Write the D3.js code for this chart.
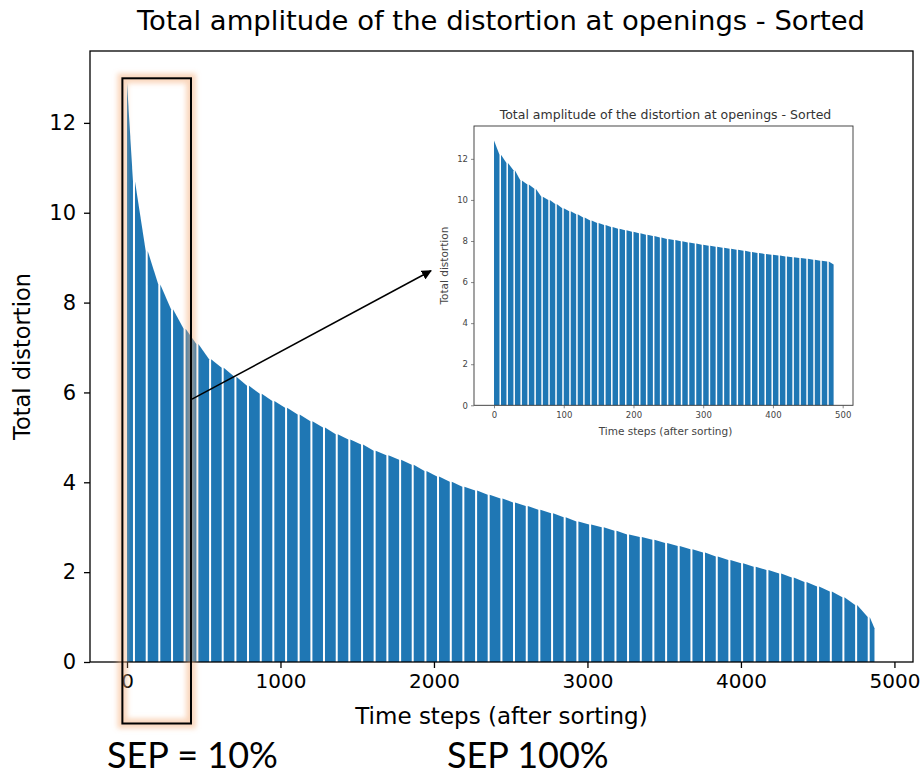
<!DOCTYPE html>
<html>
<head>
<meta charset="utf-8">
<script src="https://cdn.jsdelivr.net/npm/d3@7/dist/d3.min.js"></script>
<style>
  body { margin: 0; background: #ffffff; }
  svg { display: block; }
</style>
</head>
<body>
<svg id="chart" width="920" height="776"></svg>
<script>
// ---- text ----
const chartTitle = "Total amplitude of the distortion at openings - Sorted";
const xLabel = "Time steps (after sorting)";
const yLabel = "Total distortion";
const sepLabels = ["SEP = 10%", "SEP 100%"];

// ---- ticks ----
const mainXTicks = [0, 1000, 2000, 3000, 4000, 5000];
const mainYTicks = [0, 2, 4, 6, 8, 10, 12];
const headXTicks = [0, 100, 200, 300, 400, 500];
const headYTicks = [0, 2, 4, 6, 8, 10, 12];

// ---- full sorted series: start step of each bar group, and its distortion ----
const fullSteps = [0, 52, 135, 217, 300, 382, 465, 548, 630, 713, 795, 878, 960, 1043, 1125,
  1208, 1290, 1373, 1455, 1538, 1620, 1703, 1786, 1868, 1951, 2033, 2116, 2198, 2281, 2363,
  2446, 2528, 2611, 2693, 2776, 2858, 2941, 3024, 3106, 3189, 3271, 3354, 3436, 3519, 3601,
  3684, 3766, 3849, 3931, 4014, 4096, 4179, 4262, 4344, 4427, 4509, 4592, 4674, 4757, 4839, 4870];
const fullValues = [12.9, 10.7, 9.15, 8.4, 7.85, 7.42, 7.08, 6.74, 6.55, 6.35, 6.15, 5.97, 5.81, 5.66, 5.51,
  5.36, 5.22, 5.07, 4.95, 4.84, 4.70, 4.60, 4.50, 4.39, 4.25, 4.13, 4.01, 3.90, 3.82, 3.72,
  3.64, 3.55, 3.47, 3.39, 3.31, 3.22, 3.13, 3.06, 3.00, 2.92, 2.84, 2.78, 2.72, 2.65, 2.58,
  2.51, 2.44, 2.35, 2.27, 2.20, 2.12, 2.05, 1.97, 1.88, 1.78, 1.68, 1.57, 1.44, 1.27, 1.00, 0.75];

// ---- first 10% of the sorted series (zoomed view) ----
const headSteps = [0, 10, 20, 30, 40, 50, 60, 70, 80, 90, 100, 110, 120, 130, 140, 150, 160, 170,
  180, 190, 200, 210, 220, 230, 240, 250, 260, 270, 280, 290, 300, 310, 320, 330, 340, 350, 360,
  370, 380, 390, 400, 410, 420, 430, 440, 450, 460, 470, 480, 487];
const headValues = [12.9, 12.2, 11.8, 11.45, 10.95, 10.75, 10.55, 10.15, 10.0, 9.8, 9.6, 9.45, 9.3,
  9.15, 9.0, 8.88, 8.78, 8.68, 8.6, 8.52, 8.45, 8.38, 8.3, 8.24, 8.17, 8.1, 8.05, 7.99, 7.93, 7.88,
  7.82, 7.77, 7.72, 7.67, 7.62, 7.57, 7.52, 7.47, 7.42, 7.37, 7.33, 7.29, 7.25, 7.21, 7.17, 7.13,
  7.09, 7.04, 7.0, 6.85];

const barColor = "#1f77b4";
const mplFont = "'DejaVu Sans', sans-serif";
const intFormat = d3.format("d");

const svg = d3.select("#chart");

const defs = svg.append("defs");
defs.append("filter").attr("id", "glow").attr("x", "-50%").attr("y", "-10%")
  .attr("width", "200%").attr("height", "120%")
  .append("feGaussianBlur").attr("stdDeviation", 2.8);
defs.append("marker").attr("id", "arrowhead")
  .attr("viewBox", "0 0 10 10").attr("refX", 9).attr("refY", 5)
  .attr("markerWidth", 10).attr("markerHeight", 10).attr("markerUnits", "userSpaceOnUse")
  .attr("orient", "auto")
  .append("path").attr("d", "M0,0 L10,5 L0,10 Z").attr("fill", "#000");

// Draws the sorted bars as grouped columns whose tops follow the series.
function drawBars(g, steps, values, x, y, gap) {
  const groups = d3.range(steps.length - 1);
  g.selectAll("path.bar").data(groups).join("path")
    .attr("class", "bar")
    .attr("fill", barColor)
    .attr("d", i => {
      const x0 = x(steps[i]);
      const x1 = Math.max(x0 + 0.5, x(steps[i + 1]) - (i === groups.length - 1 ? 0 : gap));
      return `M${x0},${y(0)}L${x0},${y(values[i])}L${x1},${y(values[i + 1])}L${x1},${y(0)}Z`;
    });
}

// ---------------- main chart ----------------
const main = { left: 90, right: 913, top: 51, bottom: 662 };
const x = d3.scaleLinear().domain([-241, 5121]).range([main.left, main.right]);
const y = d3.scaleLinear().domain([0, 13.6]).range([main.bottom, main.top]);

const gMain = svg.append("g");
drawBars(gMain.append("g"), fullSteps, fullValues, x, y, 2);

gMain.append("rect")
  .attr("x", main.left).attr("y", main.top)
  .attr("width", main.right - main.left).attr("height", main.bottom - main.top)
  .attr("fill", "none").attr("stroke", "#000").attr("stroke-width", 1.3);

const xAxis = gMain.append("g").attr("transform", `translate(0,${main.bottom})`)
  .call(d3.axisBottom(x).tickValues(mainXTicks).tickFormat(intFormat)
    .tickSize(6).tickPadding(6).tickSizeOuter(0));
const yAxis = gMain.append("g").attr("transform", `translate(${main.left},0)`)
  .call(d3.axisLeft(y).tickValues(mainYTicks).tickFormat(intFormat)
    .tickSize(6).tickPadding(8).tickSizeOuter(0));
[xAxis, yAxis].forEach(a => {
  a.select(".domain").remove();
  a.selectAll(".tick line").attr("stroke", "#000").attr("stroke-width", 1.3);
  a.selectAll(".tick text").attr("font-family", mplFont).attr("font-size", 21).attr("fill", "#000");
});
xAxis.selectAll(".tick text").attr("font-size", 20);

svg.append("text").attr("x", (main.left + main.right) / 2 - 0.5).attr("y", 30)
  .attr("text-anchor", "middle").attr("font-family", mplFont).attr("font-size", 26)
  .attr("textLength", 728).attr("lengthAdjust", "spacingAndGlyphs")
  .attr("fill", "#000").text(chartTitle);
svg.append("text").attr("x", (main.left + main.right) / 2).attr("y", 724)
  .attr("text-anchor", "middle").attr("font-family", mplFont).attr("font-size", 23)
  .attr("fill", "#000").text(xLabel);
svg.append("text").attr("transform", `translate(30,${(main.top + main.bottom) / 2}) rotate(-90)`)
  .attr("text-anchor", "middle").attr("font-family", mplFont).attr("font-size", 22.5)
  .attr("fill", "#000").text(yLabel);

// ---------------- zoomed view of the first 10% ----------------
const inset = { left: 474, right: 853, top: 126, bottom: 405.3 };
const xi = d3.scaleLinear().domain([-28.7, 514.8]).range([inset.left, inset.right]);
const yi = d3.scaleLinear().domain([0, 13.6]).range([inset.bottom, inset.top]);

const gInset = svg.append("g");
gInset.append("rect")
  .attr("x", inset.left).attr("y", inset.top)
  .attr("width", inset.right - inset.left).attr("height", inset.bottom - inset.top)
  .attr("fill", "#fff");
drawBars(gInset.append("g"), headSteps, headValues, xi, yi, 1.5);
gInset.append("rect")
  .attr("x", inset.left).attr("y", inset.top)
  .attr("width", inset.right - inset.left).attr("height", inset.bottom - inset.top)
  .attr("fill", "none").attr("stroke", "#333").attr("stroke-width", 0.9);

const xiAxis = gInset.append("g").attr("transform", `translate(0,${inset.bottom})`)
  .call(d3.axisBottom(xi).tickValues(headXTicks).tickFormat(intFormat)
    .tickSize(3).tickPadding(4).tickSizeOuter(0));
const yiAxis = gInset.append("g").attr("transform", `translate(${inset.left},0)`)
  .call(d3.axisLeft(yi).tickValues(headYTicks).tickFormat(intFormat)
    .tickSize(3).tickPadding(3).tickSizeOuter(0));
[xiAxis, yiAxis].forEach(a => {
  a.select(".domain").remove();
  a.selectAll(".tick line").attr("stroke", "#555").attr("stroke-width", 0.7);
  a.selectAll(".tick text").attr("font-family", mplFont).attr("font-size", 8.5).attr("fill", "#444");
});

svg.append("text").attr("x", (inset.left + inset.right) / 2 + 2).attr("y", 119)
  .attr("text-anchor", "middle").attr("font-family", mplFont).attr("font-size", 12.5)
  .attr("fill", "#333").text(chartTitle);
svg.append("text").attr("x", (inset.left + inset.right) / 2 + 2).attr("y", 435)
  .attr("text-anchor", "middle").attr("font-family", mplFont).attr("font-size", 10.5)
  .attr("fill", "#444").text(xLabel);
svg.append("text").attr("transform", `translate(448,${(inset.top + inset.bottom) / 2}) rotate(-90)`)
  .attr("text-anchor", "middle").attr("font-family", mplFont).attr("font-size", 10.5)
  .attr("fill", "#444").text(yLabel);

// ---------------- highlight box around the first 10% ----------------
const box = { x0: x(-30), x1: x(417), top: 78.3, bottom: 723.5 };
svg.append("rect")
  .attr("x", box.x0).attr("y", box.top)
  .attr("width", box.x1 - box.x0).attr("height", box.bottom - box.top)
  .attr("fill", "none").attr("stroke", "#f6b07c").attr("stroke-width", 10)
  .attr("stroke-opacity", 0.5).attr("filter", "url(#glow)");
svg.append("rect")
  .attr("x", box.x0).attr("y", box.top)
  .attr("width", box.x1 - box.x0).attr("height", box.bottom - box.top)
  .attr("fill", "none").attr("stroke", "#000").attr("stroke-width", 2);

// arrow from the box to the zoomed view
svg.append("line")
  .attr("x1", box.x1 + 1).attr("y1", y(5.85))
  .attr("x2", 431).attr("y2", yi(6.55))
  .attr("stroke", "#000").attr("stroke-width", 1.5)
  .attr("marker-end", "url(#arrowhead)");

// ---------------- SEP annotations ----------------
const sepX = [107, 447];
sepLabels.forEach((t, i) => {
  svg.append("text").attr("x", sepX[i]).attr("y", 768)
    .attr("font-family", "Lato, 'Open Sans', sans-serif").attr("font-size", 36)
    .attr("fill", "#000").text(t);
});
</script>
</body>
</html>
